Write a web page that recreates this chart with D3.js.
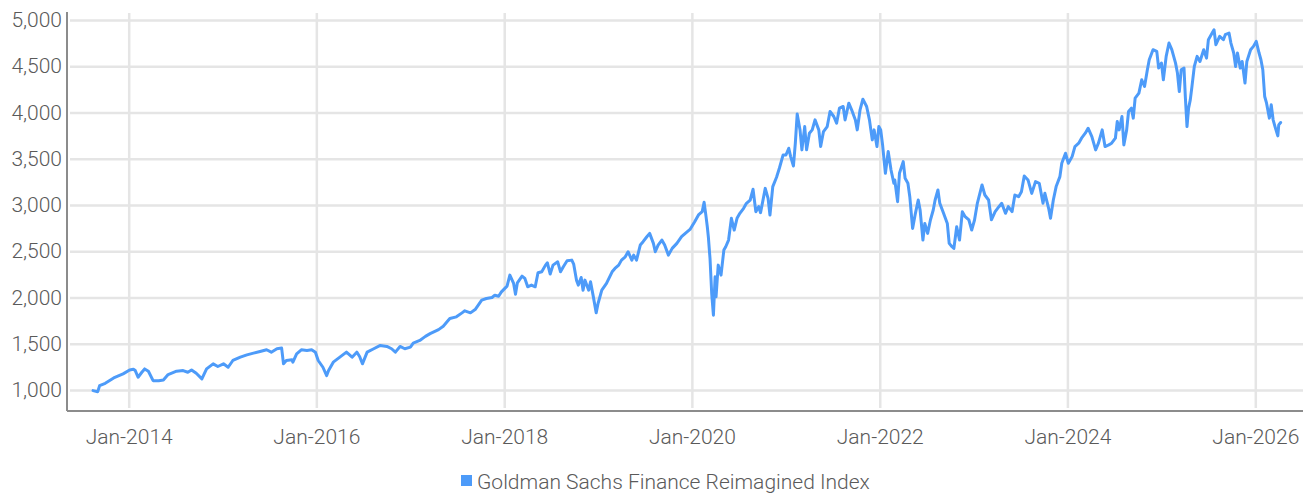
<!DOCTYPE html>
<html>
<head>
<meta charset="utf-8">
<script src="https://cdn.jsdelivr.net/npm/d3@7"></script>
<style>
  body { margin: 0; background: #fff; }
  text { font-family: Roboto, "Noto Sans", sans-serif; font-weight: 300; fill: #5a5a5a; }
</style>
</head>
<body>
<svg id="chart" width="1309" height="494"></svg>
<script>
const SERIES_NAME = 'Goldman Sachs Finance Reimagined Index';
const LINE_COLOR = '#4d9bf9';

// time as decimal years
const timeYears = [
    2013.62, 2013.67, 2013.69, 2013.75, 2013.84, 2013.94, 2014.01, 2014.05, 2014.07, 2014.10,
    2014.14, 2014.17, 2014.21, 2014.26, 2014.32, 2014.37, 2014.42, 2014.51, 2014.58, 2014.63,
    2014.67, 2014.72, 2014.78, 2014.83, 2014.90, 2014.95, 2015.01, 2015.06, 2015.11, 2015.19,
    2015.26, 2015.33, 2015.40, 2015.47, 2015.52, 2015.58, 2015.63, 2015.65, 2015.68, 2015.74,
    2015.75, 2015.79, 2015.84, 2015.90, 2015.95, 2015.99, 2016.02, 2016.07, 2016.11, 2016.13,
    2016.18, 2016.25, 2016.32, 2016.38, 2016.43, 2016.46, 2016.49, 2016.54, 2016.61, 2016.68,
    2016.75, 2016.80, 2016.84, 2016.89, 2016.94, 2017.00, 2017.03, 2017.10, 2017.16, 2017.21,
    2017.30, 2017.35, 2017.42, 2017.49, 2017.55, 2017.58, 2017.64, 2017.69, 2017.76, 2017.81,
    2017.87, 2017.90, 2017.94, 2017.97, 2018.03, 2018.06, 2018.10, 2018.12, 2018.14, 2018.19,
    2018.22, 2018.25, 2018.29, 2018.33, 2018.36, 2018.40, 2018.44, 2018.46, 2018.49, 2018.52,
    2018.57, 2018.60, 2018.63, 2018.67, 2018.72, 2018.74, 2018.77, 2018.79, 2018.82, 2018.84,
    2018.86, 2018.90, 2018.92, 2018.95, 2018.98, 2019.00, 2019.04, 2019.09, 2019.15, 2019.18,
    2019.22, 2019.25, 2019.29, 2019.32, 2019.36, 2019.38, 2019.41, 2019.45, 2019.48, 2019.52,
    2019.55, 2019.59, 2019.61, 2019.64, 2019.68, 2019.71, 2019.75, 2019.79, 2019.84, 2019.89,
    2019.93, 2019.98, 2020.03, 2020.07, 2020.11, 2020.13, 2020.15, 2020.164, 2020.175, 2020.193,
    2020.211, 2020.229, 2020.247, 2020.257, 2020.28, 2020.31, 2020.34, 2020.36, 2020.39, 2020.42,
    2020.45, 2020.48, 2020.51, 2020.55, 2020.58, 2020.62, 2020.65, 2020.68, 2020.71, 2020.73,
    2020.78, 2020.81, 2020.83, 2020.86, 2020.90, 2020.93, 2020.97, 2021.00, 2021.03, 2021.05,
    2021.08, 2021.10, 2021.12, 2021.15, 2021.17, 2021.20, 2021.22, 2021.25, 2021.28, 2021.31,
    2021.35, 2021.37, 2021.40, 2021.44, 2021.47, 2021.51, 2021.54, 2021.57, 2021.61, 2021.63,
    2021.67, 2021.70, 2021.74, 2021.76, 2021.79, 2021.82, 2021.86, 2021.89, 2021.92, 2021.94,
    2021.97, 2021.99, 2022.01, 2022.03, 2022.06, 2022.09, 2022.12, 2022.15, 2022.16, 2022.19,
    2022.21, 2022.25, 2022.27, 2022.30, 2022.32, 2022.35, 2022.38, 2022.41, 2022.43, 2022.46,
    2022.48, 2022.51, 2022.54, 2022.57, 2022.59, 2022.62, 2022.64, 2022.68, 2022.72, 2022.74,
    2022.77, 2022.79, 2022.82, 2022.85, 2022.88, 2022.91, 2022.95, 2022.98, 2023.01, 2023.04,
    2023.09, 2023.12, 2023.16, 2023.19, 2023.23, 2023.27, 2023.30, 2023.34, 2023.37, 2023.41,
    2023.44, 2023.48, 2023.51, 2023.54, 2023.58, 2023.62, 2023.66, 2023.70, 2023.74, 2023.76,
    2023.80, 2023.82, 2023.85, 2023.88, 2023.92, 2023.94, 2023.98, 2024.01, 2024.05, 2024.08,
    2024.12, 2024.15, 2024.19, 2024.22, 2024.26, 2024.30, 2024.33, 2024.37, 2024.40, 2024.44,
    2024.47, 2024.51, 2024.53, 2024.55, 2024.58, 2024.60, 2024.63, 2024.65, 2024.68, 2024.70,
    2024.72, 2024.76, 2024.79, 2024.82, 2024.85, 2024.87, 2024.91, 2024.95, 2024.97, 2025.00,
    2025.02, 2025.05, 2025.08, 2025.11, 2025.15, 2025.17, 2025.19, 2025.21, 2025.24, 2025.254,
    2025.272, 2025.289, 2025.307, 2025.325, 2025.35, 2025.38, 2025.41, 2025.45, 2025.48, 2025.50,
    2025.54, 2025.56, 2025.58, 2025.62, 2025.66, 2025.68, 2025.72, 2025.74, 2025.77, 2025.79,
    2025.81, 2025.84, 2025.86, 2025.89, 2025.91, 2025.95, 2025.98, 2026.01, 2026.04, 2026.06,
    2026.08, 2026.10, 2026.12, 2026.15, 2026.17, 2026.19, 2026.21, 2026.24, 2026.25, 2026.27
];

const indexValues = [
    993, 982, 1047, 1072, 1130, 1174, 1217, 1225, 1210, 1138,
    1192, 1228, 1203, 1101, 1101, 1109, 1167, 1203, 1210, 1192,
    1217, 1181, 1120, 1228, 1283, 1254, 1283, 1246, 1319, 1355,
    1380, 1399, 1417, 1435, 1409, 1446, 1453, 1283, 1319, 1326,
    1301, 1391, 1435, 1428, 1435, 1409, 1319, 1246, 1156, 1210,
    1301, 1355, 1409, 1355, 1409, 1362, 1283, 1409, 1446, 1482,
    1471, 1446, 1409, 1471, 1446, 1464, 1507, 1536, 1580, 1609,
    1653, 1690, 1773, 1791, 1834, 1856, 1834, 1870, 1971, 1989,
    2000, 2025, 2014, 2061, 2123, 2242, 2152, 2036, 2159, 2231,
    2206, 2116, 2134, 2116, 2267, 2278, 2350, 2375, 2253, 2350,
    2386, 2278, 2332, 2397, 2404, 2361, 2188, 2134, 2217, 2079,
    2188, 2079, 2170, 2007, 1834, 1935, 2079, 2152, 2278, 2314,
    2350, 2404, 2440, 2495, 2404, 2458, 2404, 2567, 2603, 2657,
    2693, 2585, 2495, 2567, 2621, 2567, 2458, 2531, 2585, 2657,
    2693, 2736, 2819, 2892, 2928, 3030, 2880, 2765, 2657, 2420,
    2040, 1809, 2224, 2007, 2350, 2242, 2513, 2549, 2621, 2856,
    2729, 2856, 2910, 2964, 3018, 3054, 3170, 2928, 2982, 2917,
    3180, 3072, 2892, 3199, 3300, 3397, 3541, 3541, 3614, 3523,
    3422, 3668, 3985, 3812, 3596, 3848, 3596, 3776, 3812, 3920,
    3812, 3632, 3794, 3848, 4011, 3957, 3884, 4047, 4065, 3920,
    4101, 4029, 3920, 3812, 4029, 4144, 4065, 3920, 3704, 3812,
    3632, 3848, 3812, 3650, 3343, 3578, 3379, 3235, 3271, 3036,
    3343, 3469, 3289, 3235, 3090, 2747, 2910, 3054, 2946, 2621,
    2801, 2693, 2838, 2946, 3054, 3162, 3018, 2910, 2801, 2585,
    2549, 2531, 2765, 2621, 2928, 2874, 2838, 2729, 2838, 3018,
    3217, 3108, 3054, 2840, 2928, 2982, 3018, 2910, 2982, 2928,
    3108, 3090, 3144, 3314, 3271, 3126, 3253, 3235, 3018, 3126,
    2964, 2856, 3054, 3199, 3307, 3451, 3560, 3451, 3523, 3632,
    3668, 3722, 3776, 3830, 3740, 3596, 3668, 3812, 3632, 3650,
    3668, 3722, 3903, 3812, 3957, 3650, 3812, 4011, 4047, 3939,
    4155, 4209, 4354, 4282, 4462, 4570, 4679, 4661, 4480, 4534,
    4354, 4607, 4751, 4679, 4534, 4426, 4227, 4462, 4480, 4173,
    3848, 4047, 4137, 4282, 4498, 4607, 4552, 4679, 4588, 4787,
    4859, 4895, 4733, 4823, 4787, 4841, 4859, 4751, 4643, 4498,
    4643, 4480, 4552, 4318, 4552, 4679, 4715, 4769, 4643, 4570,
    4462, 4173, 4101, 3939, 4083, 3921, 3848, 3747, 3866, 3892
];

const yTicks = [1000, 1500, 2000, 2500, 3000, 3500, 4000, 4500, 5000];
const xTickYears = [2014, 2016, 2018, 2020, 2022, 2024, 2026];

function yearToDate(t) {
    const year = Math.floor(t);
    const start = new Date(year, 0, 1);
    const end = new Date(year + 1, 0, 1);
    return new Date(+start + (t - year) * (end - start));
}

const data = timeYears.map((t, i) => ({ date: yearToDate(t), value: indexValues[i] }));

const svg = d3.select('#chart');

const plotLeft = 68, plotRight = 1303, plotTop = 12, plotBottom = 411;

const x = d3.scaleTime()
    .domain([new Date(2014, 0, 1), new Date(2026, 0, 1)])
    .range([128.7, 1255.3]);

const y = d3.scaleLinear()
    .domain([1000, 5000])
    .range([390, 20]);

// horizontal grid + y labels
const yAxis = svg.append('g')
    .attr('transform', 'translate(70,0)')
    .call(d3.axisLeft(y)
        .tickValues(yTicks)
        .tickSize(-(plotRight - 70))
        .tickPadding(8)
        .tickFormat(d3.format(',')));
yAxis.select('.domain').remove();
yAxis.selectAll('line').attr('stroke', '#e5e5e5').attr('stroke-width', 2.5);
yAxis.selectAll('text')
    .attr('font-size', 21)
    .attr('fill', '#5a5a5a')
    .style('font-family', 'Roboto, sans-serif');

// vertical grid + x labels
const xAxis = svg.append('g')
    .attr('transform', 'translate(0,408)')
    .call(d3.axisBottom(x)
        .tickValues(xTickYears.map(yr => new Date(yr, 0, 1)))
        .tickSize(-(408 - 13))
        .tickPadding(21)
        .tickFormat(d3.timeFormat('%b-%Y')));
xAxis.select('.domain').remove();
xAxis.selectAll('line').attr('stroke', '#e5e5e5').attr('stroke-width', 2.5);
xAxis.selectAll('text')
    .attr('font-size', 21)
    .attr('fill', '#5a5a5a')
    .style('font-family', 'Roboto, sans-serif');

// series line
const line = d3.line()
    .x(d => x(d.date))
    .y(d => y(d.value));

svg.append('path')
    .datum(data)
    .attr('fill', 'none')
    .attr('stroke', LINE_COLOR)
    .attr('stroke-width', 3)
    .attr('stroke-linejoin', 'round')
    .attr('stroke-linecap', 'round')
    .attr('d', line);

// axis lines
svg.append('line')
    .attr('x1', 67).attr('x2', 67)
    .attr('y1', plotTop).attr('y2', plotBottom)
    .attr('stroke', '#8c8c8c').attr('stroke-width', 2);
svg.append('line')
    .attr('x1', plotLeft - 1).attr('x2', plotRight)
    .attr('y1', plotBottom).attr('y2', plotBottom)
    .attr('stroke', '#8c8c8c').attr('stroke-width', 2);

// legend
const legend = svg.append('g').attr('transform', 'translate(461,475)');
legend.append('rect')
    .attr('width', 11).attr('height', 11)
    .attr('fill', LINE_COLOR);
legend.append('text')
    .attr('x', 16).attr('y', 14)
    .attr('font-size', 21)
    .text(SERIES_NAME);
</script>
</body>
</html>
